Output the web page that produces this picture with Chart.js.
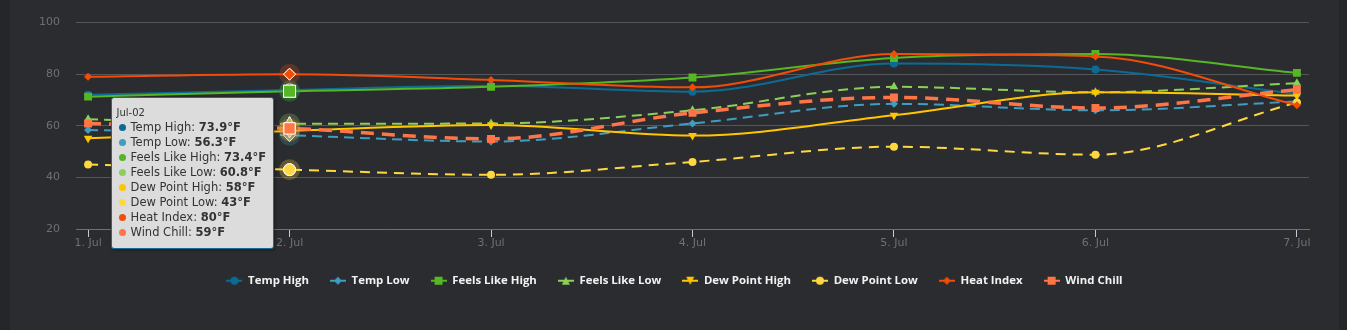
<!DOCTYPE html>
<html>
<head>
<meta charset="utf-8">
<title>Weather chart</title>
<script src="https://cdn.jsdelivr.net/npm/chart.js@4.4.1/dist/chart.umd.min.js"></script>
<style>
  html, body { margin: 0; padding: 0; background: #252629; }
  #wrap { position: absolute; left: 10px; top: 0; width: 1329px; height: 330px; background: #2b2c2f; }
  #tip {
    position: absolute; display: none; pointer-events: none;
    box-sizing: border-box; width: 163px; height: 152px;
    background: #dcdcdc; border: 1px solid #156c97; border-radius: 3px;
    padding: 8px 6px 6px 5px;
    font-family: "DejaVu Sans", sans-serif; color: #333;
    box-shadow: 1px 1px 3px rgba(0,0,0,0.35);
  }
  #tip .t { font-size: 10px; line-height: 14px; }
  #tip .r { font-size: 11.5px; line-height: 15px; white-space: nowrap; padding-left: 2px; }
  #tip .d { display: inline-block; width: 7px; height: 7px; border-radius: 50%; margin-right: 5px; vertical-align: 0px; }
</style>
</head>
<body>
<div id="wrap">
  <canvas id="chart"></canvas>
  <div id="tip"></div>
</div>
<script>
// x positions (days) and labels
const days = [0, 1, 2, 3, 4, 5, 6];
const dayLabels = ["1. Jul", "2. Jul", "3. Jul", "4. Jul", "5. Jul", "6. Jul", "7. Jul"];
const tipDates = ["Jul-01", "Jul-02", "Jul-03", "Jul-04", "Jul-05", "Jul-06", "Jul-07"];
const yTicks = [20, 40, 60, 80, 100];

// series values (°F)
const tempHigh  = [72.0, 73.9, 75.5, 73.2, 84.1, 81.8, 72.3];
const tempLow   = [58.4, 56.3, 53.9, 60.9, 68.5, 66.0, 69.4];
const feelsHigh = [71.3, 73.4, 75.1, 78.7, 86.3, 87.8, 80.5];
const feelsLow  = [62.5, 60.8, 60.9, 66.0, 75.1, 73.0, 76.5];
const dewHigh   = [55.2, 58, 60.3, 56.2, 64.1, 73.0, 71.7];
const dewLow    = [45, 43, 41, 46, 51.9, 48.8, 69.0];
const heatIndex = [79, 80, 77.8, 74.9, 87.8, 86.9, 68.0];
const windChill = [60.9, 59, 54.9, 65.0, 71.0, 66.9, 74.0];

const series = [
  { name: "Temp High",       data: tempHigh,  color: "#0c6b96", style: "circle",   rot: 0,   r: 4,   hr: 6,   dash: [],      lw: 2 },
  { name: "Temp Low",        data: tempLow,   color: "#3f9dc2", style: "rectRot",  rot: 0,   r: 4,   hr: 6,   dash: [10, 6], lw: 2 },
  { name: "Feels Like High", data: feelsHigh, color: "#56b623", style: "rect",     rot: 0,   r: 5.6, hr: 8.5, dash: [],      lw: 2 },
  { name: "Feels Like Low",  data: feelsLow,  color: "#8bd05a", style: "triangle", rot: 0,   r: 5,   hr: 7,   dash: [10, 6], lw: 2 },
  { name: "Dew Point High",  data: dewHigh,   color: "#ffc600", style: "triangle", rot: 180, r: 5,   hr: 7,   dash: [],      lw: 2 },
  { name: "Dew Point Low",   data: dewLow,    color: "#ffd83f", style: "circle",   rot: 0,   r: 4,   hr: 6,   dash: [10, 7], lw: 2 },
  { name: "Heat Index",      data: heatIndex, color: "#f24c06", style: "rectRot",  rot: 0,   r: 4,   hr: 6,   dash: [],      lw: 2 },
  { name: "Wind Chill",      data: windChill, color: "#ff7548", style: "rect",     rot: 0,   r: 5.6, hr: 8,   dash: [13, 8], lw: 3.5 }
];

const axisFont = { family: "DejaVu Sans", size: 11 };

// legend symbol: short line with the marker on it
const legendSymbol = (s) => {
  const c = document.createElement("canvas");
  c.width = 16; c.height = 12;
  const g = c.getContext("2d");
  g.strokeStyle = s.color; g.fillStyle = s.color; g.lineWidth = 2;
  g.beginPath(); g.moveTo(0, 6); g.lineTo(16, 6); g.stroke();
  g.beginPath();
  if (s.style === "circle") {
    g.arc(8, 6, 4, 0, Math.PI * 2);
  } else if (s.style === "rect") {
    g.rect(4, 2, 8, 8);
  } else if (s.style === "rectRot") {
    g.moveTo(8, 2); g.lineTo(12, 6); g.lineTo(8, 10); g.lineTo(4, 6); g.closePath();
  } else if (s.rot === 180) {
    g.moveTo(4, 2); g.lineTo(12, 2); g.lineTo(8, 10); g.closePath();
  } else {
    g.moveTo(8, 2); g.lineTo(12, 10); g.lineTo(4, 10); g.closePath();
  }
  g.fill();
  return c;
};

// external html tooltip (bold values)
const externalTip = (context) => {
  const tip = context.tooltip;
  const el = document.getElementById("tip");
  if (tip.opacity === 0 || !tip.dataPoints || !tip.dataPoints.length) { el.style.display = "none"; return; }
  const pts = tip.dataPoints.slice().sort((a, b) => a.datasetIndex - b.datasetIndex);
  const i = pts[0].dataIndex;
  let html = `<div class="t">${tipDates[i]}</div>`;
  pts.forEach(p => {
    const s = series[p.datasetIndex];
    html += `<div class="r"><span class="d" style="background:${s.color}"></span>${s.name}: <b>${s.data[i]}°F</b></div>`;
  });
  el.innerHTML = html;
  el.style.display = "block";
  const chart = context.chart;
  el.style.left = (tip.caretX - 16 - el.offsetWidth) + "px";
  el.style.top = (chart.chartArea.top + 74) + "px";
};

// halo behind hovered markers, marker redrawn on top
const haloPlugin = {
  id: "halo",
  afterDatasetsDraw(chart) {
    const ctx = chart.ctx;
    chart.getActiveElements()
      .slice().sort((a, b) => a.datasetIndex - b.datasetIndex)
      .forEach(a => {
        const el = a.element;
        ctx.save();
        ctx.globalAlpha = 0.25;
        ctx.fillStyle = series[a.datasetIndex].color;
        ctx.beginPath();
        ctx.arc(el.x, el.y, 10.5, 0, Math.PI * 2);
        ctx.fill();
        ctx.restore();
        el.draw(ctx, chart.chartArea);
      });
  }
};

const chart = new Chart(document.getElementById("chart"), {
  type: "line",
  data: {
    datasets: series.map((s, i) => ({
      label: s.name,
      data: s.data.map((v, k) => ({ x: days[k], y: v })),
      order: -i,
      borderColor: s.color,
      backgroundColor: s.color,
      borderWidth: s.lw,
      borderDash: s.dash,
      cubicInterpolationMode: "monotone",
      fill: false,
      pointStyle: s.style,
      rotation: s.rot,
      pointRadius: s.r,
      pointBorderWidth: 0,
      pointBackgroundColor: s.color,
      pointHoverRadius: s.hr,
      pointHoverBorderWidth: 1,
      pointHoverBorderColor: "#ffffff",
      pointHoverBackgroundColor: s.color
    }))
  },
  options: {
    responsive: true,
    maintainAspectRatio: false,
    animation: false,
    events: [],
    layout: { padding: { top: 11.4, right: 0, bottom: 33.6, left: 0 } },
    interaction: { mode: "index", intersect: false },
    scales: {
      x: {
        type: "linear",
        min: -0.06,
        max: 6.06,
        afterBuildTicks: (s) => { s.ticks = days.map(v => ({ value: v })); },
        afterFit: (s) => { s.height = 25; },
        ticks: {
          callback: (v) => dayLabels[v],
          color: "#707070",
          font: axisFont,
          padding: 0,
          autoSkip: false,
          maxRotation: 0
        },
        grid: { drawOnChartArea: false, drawTicks: true, tickLength: 8, color: "#c0cadb" },
        border: { color: "#707073" }
      },
      y: {
        min: 20,
        max: 100,
        afterBuildTicks: (s) => { s.ticks = yTicks.map(v => ({ value: v })); },
        afterFit: (s) => { s.width = 66; },
        ticks: { color: "#707070", font: axisFont, padding: 16 },
        grid: { color: "#55565a", drawTicks: false },
        border: { display: false }
      },
      // empty right-hand spacer so the legend stays centred on the whole chart
      spacer: {
        type: "linear",
        position: "right",
        afterFit: (s) => { s.width = 30; },
        ticks: { display: false },
        grid: { display: false },
        border: { display: false }
      }
    },
    plugins: {
      legend: {
        position: "bottom",
        labels: {
          usePointStyle: true,
          pointStyleWidth: 16,
          boxHeight: 12,
          padding: 21,
          color: "#f2f2f2",
          font: { family: "Open Sans", size: 11.4, weight: "bold" },
          generateLabels: () => series.map((s, i) => ({
            text: s.name,
            pointStyle: legendSymbol(s),
            fontColor: "#f2f2f2",
            datasetIndex: i,
            hidden: false,
            lineWidth: 0,
            strokeStyle: "rgba(0,0,0,0)",
            fillStyle: "rgba(0,0,0,0)"
          }))
        }
      },
      tooltip: { enabled: false, external: externalTip }
    }
  },
  plugins: [haloPlugin]
});

// show the shared tooltip on 2. Jul
const active = series.map((s, i) => ({ datasetIndex: i, index: 1 }));
chart.setActiveElements(active);
chart.tooltip.setActiveElements(active, { x: 0, y: 0 });
chart.update();
</script>
</body>
</html>
